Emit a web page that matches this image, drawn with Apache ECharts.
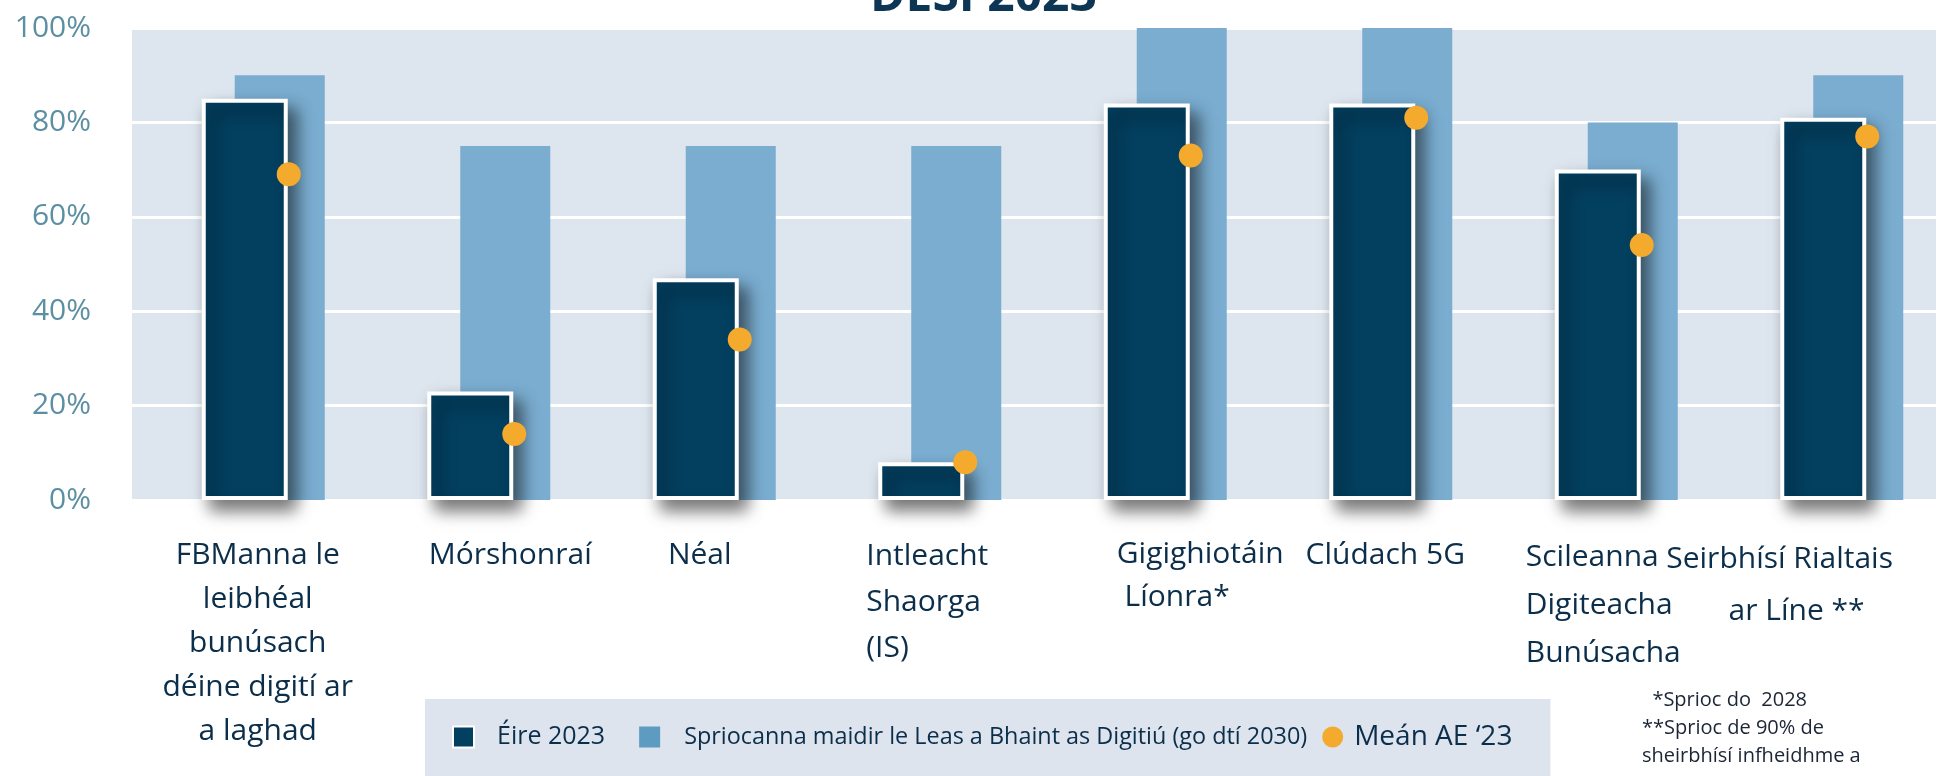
<!DOCTYPE html>
<html>
<head>
<meta charset="utf-8">
<script src="https://cdn.jsdelivr.net/npm/echarts@6/dist/echarts.min.js"></script>
<style>
  html, body { margin: 0; padding: 0; background: #ffffff; }
  #chart { width: 1951px; height: 776px; }
</style>
</head>
<body>
<div id="chart"></div>
<script>
// ---- data ----
const categories = [
  'FBManna le\nleibhéal\nbunúsach\ndéine digití ar\na laghad',
  'Mórshonraí',
  'Néal',
  'Intleacht\nShaorga\n(IS)',
  'Gigighiotáin\n Líonra*',
  'Clúdach 5G',
  'Scileanna\nDigiteacha\nBunúsacha',
  'Seirbhísí Rialtais\n        ar Líne **'
];
const eire2023 = [85, 23, 47, 8, 84, 84, 70, 81];
const sprioc2030 = [90, 75, 75, 75, 100, 100, 80, 90];
const meanEU23 = [69, 14, 34, 8, 73, 81, 54, 77];
const seriesNames = ['Éire 2023', 'Spriocanna maidir le Leas a Bhaint as Digitiú (go dtí 2030)', 'Meán AE ‘23'];
const titleText = 'DESI 2023';
const footnoteLines = ['  *Sprioc do  2028', '**Sprioc de 90% de', 'sheirbhísí infheidhme a'];

// ---- label layout (styling only) ----
const labelLayout = [
  { mode: 'center', shift: 13, lh: 44 },
  { mode: 'center', shift: 40, lh: 44 },
  { mode: 'center', shift: 4, lh: 44 },
  { mode: 'left', shift: -55, lh: 46 },
  { mode: 'left', shift: -30, lh: 43 },
  { mode: 'center', shift: 13, lh: 44 },
  { mode: 'left', shift: -72, lh: 48 },
  { mode: 'left', shift: -157, lh: 52 }
];

const FONT = '"Open Sans", "Noto Sans", sans-serif';
const NAVY = '#0b2e4b';
const rich = {};
const spacer = [];
labelLayout.forEach((l, i) => {
  const W = l.mode === 'left' ? (l.shift < -100 ? 320 : 200) : 260;
  const G = l.mode === 'left' ? 2 * l.shift + W : 2 * l.shift;
  spacer.push(G);
  rich['c' + i] = { width: W, align: l.mode === 'left' ? 'left' : 'center', lineHeight: l.lh,
                    fontSize: 30, fontFamily: FONT, color: NAVY };
  rich['g' + i] = { width: Math.abs(G), align: G >= 0 ? 'left' : 'right', lineHeight: l.lh,
                    fontSize: 30, fontFamily: FONT, color: NAVY };
});

const chart = echarts.init(document.getElementById('chart'), null, { renderer: 'canvas' });

const option = {
  animation: false,
  backgroundColor: '#ffffff',
  title: [
    { text: titleText, left: 870, top: -27, padding: 0,
      textStyle: { fontFamily: FONT, fontSize: 48, lineHeight: 48, fontWeight: 'bold', color: '#0c3654' } },
    { text: footnoteLines.join('\n'), left: 1642, top: 686, padding: 0,
      textStyle: { fontFamily: FONT, fontSize: 20, lineHeight: 28, fontWeight: 'normal', color: '#1b2535' } }
  ],
  grid: [
    { left: 132, width: 1804, top: 28, bottom: 276, show: true, backgroundColor: '#dde5ee', borderWidth: 0,
      containLabel: false, outerBoundsMode: 'none' },
    { left: 167, width: 1804, top: 28, bottom: 276, show: false,
      containLabel: false, outerBoundsMode: 'none' }
  ],
  xAxis: [
    { type: 'category', gridIndex: 0, data: categories,
      axisLine: { show: false }, axisTick: { show: false },
      axisLabel: {
        interval: 0, margin: 33, fontFamily: FONT, fontSize: 30, color: NAVY, rich: rich,
        hideOverlap: false,
        formatter: function (value, idx) {
          const G = spacer[idx];
          return value.split('\n').map(line => {
            if (G > 0) return '{g' + idx + '| }{c' + idx + '|' + line + '}';
            if (G < 0) return '{c' + idx + '|' + line + '}{g' + idx + '| }';
            return '{c' + idx + '|' + line + '}';
          }).join('\n');
        }
      } },
    { type: 'category', gridIndex: 1, data: categories, show: false }
  ],
  yAxis: [
    { type: 'value', gridIndex: 0, min: 0, max: 100, interval: 20,
      axisLine: { show: false }, axisTick: { show: false },
      splitLine: { show: true, lineStyle: { color: '#ffffff', width: 3 } },
      axisLabel: { formatter: '{value}%', margin: 41, fontFamily: FONT, fontSize: 30,
                   color: '#5b8fa2', padding: [0, 0, 10, 0] } },
    { type: 'value', gridIndex: 1, min: 0, max: 100, interval: 20, show: false,
      splitLine: { show: false } }
  ],
  legend: {
    left: 425, top: 699, orient: 'horizontal',
    backgroundColor: '#dde4ee', borderRadius: 0,
    padding: [23, 38, 40, 27],
    itemWidth: 21, itemHeight: 21, itemGap: 15,
    textStyle: { fontFamily: FONT, color: NAVY, lineHeight: 30 },
    data: [
      { name: seriesNames[0], icon: 'rect',
        textStyle: { fontSize: 25, padding: [0, 19, 0, 18] } },
      { name: seriesNames[1], icon: 'rect', itemStyle: { color: '#5d9cc0' },
        textStyle: { fontSize: 23.4, padding: [0, 0, 0, 19] } },
      { name: seriesNames[2], icon: 'circle',
        textStyle: { fontSize: 28, padding: [0, 0, 0, 6] } }
    ]
  },
  series: [
    { name: seriesNames[1], type: 'bar', xAxisIndex: 1, yAxisIndex: 1, data: sprioc2030,
      barWidth: 90, z: 2, itemStyle: { color: '#7aadd0' } },
    { name: seriesNames[0], type: 'bar', xAxisIndex: 0, yAxisIndex: 0, data: eire2023,
      barWidth: 86, z: 3,
      itemStyle: { color: '#033f5f', borderColor: '#ffffff', borderWidth: 4,
                   shadowBlur: 16, shadowColor: 'rgba(0,0,0,0.55)', shadowOffsetX: 8, shadowOffsetY: 10 } },
    { name: seriesNames[2], type: 'scatter', xAxisIndex: 0, yAxisIndex: 0, data: meanEU23,
      symbol: 'circle', symbolSize: 24, symbolOffset: [44, 0], z: 5,
      itemStyle: { color: '#f4aa2d', opacity: 1 } }
  ]
};
chart.setOption(option);
</script>
</body>
</html>
